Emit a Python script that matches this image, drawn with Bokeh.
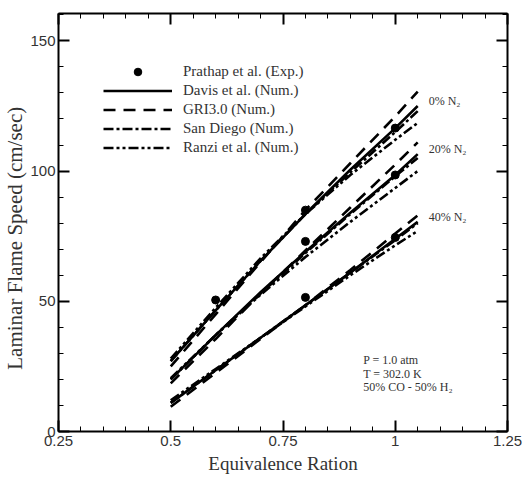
import numpy as np
from bokeh.plotting import figure
from bokeh.models import (Range1d, FixedTicker, LinearAxis, Legend, LegendItem, Label,
                          CustomLabelingPolicy, CustomJSTickFormatter)
from bokeh.embed import file_html
from bokeh.resources import INLINE

# ---------------- data ----------------
phi = [0.5, 0.6, 0.7, 0.8, 0.9, 1.0, 1.05]
dilution_labels = ["0% N\u2082", "20% N\u2082", "40% N\u2082"]

davis_0 = [27, 46.5, 65.5, 83.5, 100.5, 116.5, 125]
gri_0 = [25, 45, 65, 85, 103, 121, 130.5]
sd_0 = [27, 46.5, 65.5, 83.5, 99.5, 115, 123]
ranzi_0 = [28, 47.5, 66.5, 83.5, 98.5, 112, 118.5]

davis_20 = [20, 37, 53.5, 69, 84, 98.5, 106.5]
gri_20 = [18.5, 35.5, 53, 69.5, 86, 102.5, 111]
sd_20 = [20, 37, 53, 68.5, 83.5, 98, 105]
ranzi_20 = [20.5, 37, 52.5, 67, 80.5, 93.5, 100]

davis_40 = [11, 23.5, 36, 48.5, 61, 74, 80.5]
gri_40 = [9.5, 22.5, 35.5, 48.5, 62, 76, 83]
sd_40 = [11, 23.5, 36, 48.5, 61, 73.5, 80]
ranzi_40 = [12, 24, 36, 48, 60, 71.5, 77]

exp_phi = [0.6, 0.8, 1.0, 0.8, 1.0, 0.8, 1.0]
exp_speed = [50.5, 85, 116.5, 73, 98.5, 51.5, 74.5]

x_ticks = [0.25, 0.5, 0.75, 1.0, 1.25]
x_tick_labels = ["0.25", "0.5", "0.75", "1", "1.25"]
y_ticks = [0, 50, 100, 150]

# ---------------- figure ----------------
SERIF = "Liberation Serif"
SANS = "Liberation Sans"

p = figure(width=524, height=480, x_range=Range1d(0.25, 1.25), y_range=Range1d(0, 160.5),
           output_backend="svg", toolbar_location=None,
           min_border_left=58, min_border_right=17, min_border_top=13, min_border_bottom=49)
p.outline_line_color = None
p.xgrid.grid_line_color = None
p.ygrid.grid_line_color = None
p.background_fill_color = "white"
p.border_fill_color = "white"

xt = FixedTicker(ticks=x_ticks, minor_ticks=[round(v, 2) for v in np.arange(0.25, 1.2501, 0.05)])
yt = FixedTicker(ticks=y_ticks, minor_ticks=list(range(0, 161, 10)))

p.xaxis.ticker = xt
p.yaxis.ticker = yt
p.xaxis.major_label_overrides = {t: s for t, s in zip(x_ticks, x_tick_labels)}

for ax in (p.xaxis[0], p.yaxis[0]):
    ax.axis_line_width = 2
    ax.axis_line_color = "black"
    ax.major_tick_in = 11
    ax.major_tick_out = 0
    ax.minor_tick_in = 5
    ax.minor_tick_out = 0
    ax.major_tick_line_width = 2
    ax.minor_tick_line_width = 1
    ax.major_label_text_font = SANS
    ax.major_label_text_font_size = "15px"
    ax.major_label_text_color = "#333333"
    ax.axis_label_text_font = SERIF
    ax.axis_label_text_font_style = "normal"
    ax.axis_label_text_color = "#333333"

p.xaxis.axis_label = "Equivalence Ration"
p.xaxis.axis_label_text_font_size = "19px"
p.xaxis.major_label_standoff = 4
p.xaxis.axis_label_standoff = 4

# trailing no-break spaces shift the centred title slightly downwards, as in the original
p.yaxis.axis_label = "Laminar Flame Speed (cm/sec)" + "\u00a0" * 6
p.yaxis.axis_label_text_font_size = "21px"
p.yaxis.major_label_standoff = 3
p.yaxis.axis_label_standoff = 0

hide_all = CustomLabelingPolicy(code="""
    if (typeof indices.unset === 'function') {
        const all = [...indices];
        for (const i of all) indices.unset(i);
    } else if (typeof indices.clear === 'function') {
        indices.clear();
    }
    return indices;
""")
blank = CustomJSTickFormatter(code="return ''")

top = LinearAxis(ticker=xt, formatter=blank, major_label_policy=hide_all,
                 major_label_text_font_size="0px", major_label_standoff=0)
right = LinearAxis(ticker=yt, formatter=blank, major_label_policy=hide_all,
                   major_label_text_font_size="0px", major_label_standoff=0)
for ax in (top, right):
    ax.axis_line_width = 2
    ax.axis_line_color = "black"
    ax.major_tick_in = 11
    ax.major_tick_out = 0
    ax.minor_tick_in = 5
    ax.minor_tick_out = 0
    ax.major_tick_line_width = 2
    ax.minor_tick_line_width = 1
p.add_layout(top, "above")
p.add_layout(right, "right")

LW = 2.6
styles = {
    "davis": "solid",
    "gri": "12 8",
    "sd": "10 3 3 3",
    "ranzi": "10 3 3 3 3 3",
}
series = {
    "davis": [davis_0, davis_20, davis_40],
    "gri": [gri_0, gri_20, gri_40],
    "sd": [sd_0, sd_20, sd_40],
    "ranzi": [ranzi_0, ranzi_20, ranzi_40],
}
rends = {}
for key, arrs in series.items():
    rends[key] = [p.line(phi, a, line_color="black", line_width=LW, line_dash=styles[key]) for a in arrs]

dots = p.scatter(exp_phi, exp_speed, size=8, marker="circle", fill_color="black", line_color="black")

legend = Legend(items=[
    LegendItem(label="Prathap et al. (Exp.)", renderers=[dots]),
    LegendItem(label="Davis et al. (Num.)", renderers=[rends["davis"][0]]),
    LegendItem(label="GRI3.0 (Num.)", renderers=[rends["gri"][0]]),
    LegendItem(label="San Diego (Num.)", renderers=[rends["sd"][0]]),
    LegendItem(label="Ranzi et al. (Num.)", renderers=[rends["ranzi"][0]]),
], location=(45, 274))
legend.padding = 0
legend.margin = 0
legend.spacing = 0
legend.glyph_height = 19
legend.label_height = 19
legend.glyph_width = 69
legend.label_standoff = 11
legend.border_line_color = None
legend.background_fill_alpha = 0
legend.label_text_font = SERIF
legend.label_text_font_size = "15px"
legend.label_text_color = "#333333"
p.add_layout(legend, "center")

# dilution labels anchored at the end of the Davis curves
for lab, arr in zip(dilution_labels, series["davis"]):
    p.add_layout(Label(x=phi[-1], y=arr[-1], text=lab, x_offset=11, y_offset=5,
                       text_font=SERIF, text_font_size="12px", text_color="#333333",
                       text_baseline="middle"))

cond_lines = ["P = 1.0 atm", "T = 302.0 K", "50% CO - 50% H\u2082"]
for i, t in enumerate(cond_lines):
    p.add_layout(Label(x=0.9286, y=27.3 - 5.2 * i, text=t,
                       text_font=SERIF, text_font_size="12px", text_color="#333333",
                       text_baseline="middle"))

open("out.html", "w").write(file_html(p, INLINE))
